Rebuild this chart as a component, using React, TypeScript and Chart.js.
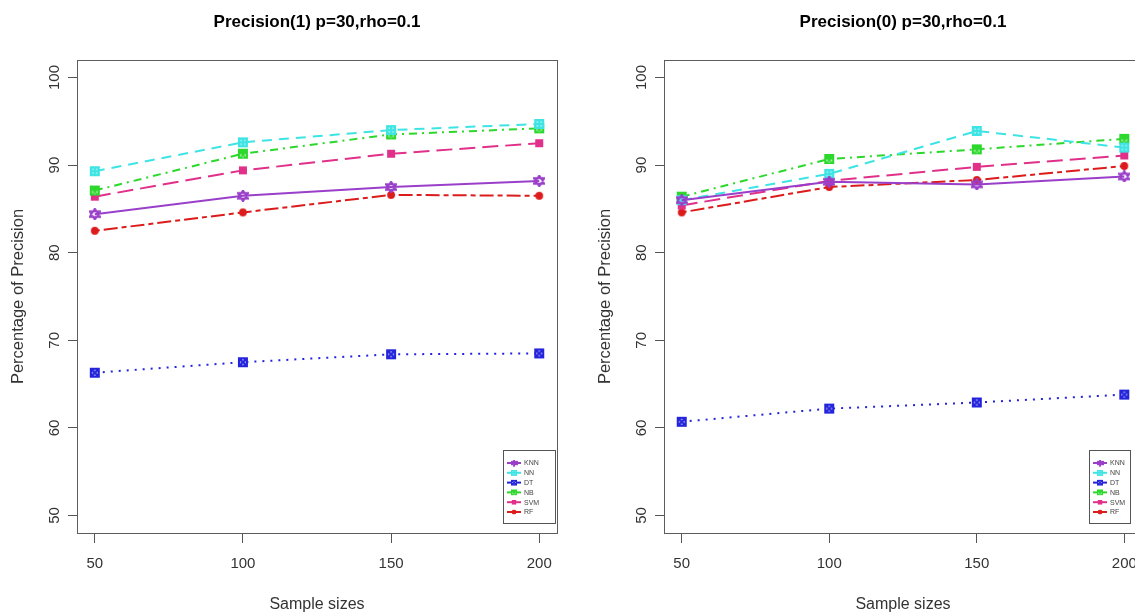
import React, { useEffect, useRef } from "react";
import { Chart, registerables } from "chart.js";

Chart.register(...registerables);

// ---- data ----
const sampleSizes = [50, 100, 150, 200];
const xTickValues = [50, 100, 150, 200];
const yTickValues = [50, 60, 70, 80, 90, 100];
const methods = ["KNN", "NN", "DT", "NB", "SVM", "RF"];

// Precision(1), p=30, rho=0.1
const prec1KNN = [84.4, 86.5, 87.5, 88.2];
const prec1NN = [89.3, 92.6, 94.0, 94.7];
const prec1DT = [66.3, 67.5, 68.4, 68.5];
const prec1NB = [87.1, 91.3, 93.5, 94.2];
const prec1SVM = [86.4, 89.4, 91.3, 92.5];
const prec1RF = [82.5, 84.6, 86.6, 86.5];

// Precision(0), p=30, rho=0.1
const prec0KNN = [86.0, 88.1, 87.8, 88.7];
const prec0NN = [86.0, 89.0, 93.9, 92.0];
const prec0DT = [60.7, 62.2, 62.9, 63.8];
const prec0NB = [86.4, 90.7, 91.8, 93.0];
const prec0SVM = [85.4, 88.2, 89.8, 91.1];
const prec0RF = [84.6, 87.5, 88.3, 89.9];

// ---- styling ----
const FONT = "'Liberation Sans', Arial, Helvetica, sans-serif";
const PANEL_W = 587;
const PANEL_H = 613;

type MarkerKind = "hexagram" | "squarePlus" | "squareCross" | "squareTri" | "square" | "circle";

const seriesStyle: { color: string; dash: number[]; marker: MarkerKind }[] = [
  { color: "#9a3fc9", dash: [], marker: "hexagram" },
  { color: "#3ee4e4", dash: [10, 7], marker: "squarePlus" },
  { color: "#2424dc", dash: [2, 6], marker: "squareCross" },
  { color: "#2cd82c", dash: [8, 5, 2, 5], marker: "squareTri" },
  { color: "#e0308a", dash: [16, 7], marker: "square" },
  { color: "#dc1c1c", dash: [5, 4, 14, 4], marker: "circle" },
];

// point symbols: solid squares with small light holes, a hexagram, a square and a dot
function makeMarker(kind: MarkerKind, color: string): HTMLCanvasElement {
  const c = document.createElement("canvas");
  c.width = 12;
  c.height = 12;
  const g = c.getContext("2d")!;
  g.strokeStyle = color;
  g.fillStyle = color;
  if (kind === "hexagram") {
    g.lineWidth = 1.9;
    g.beginPath();
    g.moveTo(6, 0.6); g.lineTo(11.2, 8.8); g.lineTo(0.8, 8.8); g.closePath();
    g.moveTo(6, 11.4); g.lineTo(11.2, 3.2); g.lineTo(0.8, 3.2); g.closePath();
    g.stroke();
  } else if (kind === "square") {
    g.fillRect(2, 2, 8, 8);
  } else if (kind === "circle") {
    g.beginPath();
    g.arc(6, 6, 3.9, 0, Math.PI * 2);
    g.fill();
  } else {
    g.fillRect(1, 1, 10, 10);
    g.fillStyle = "rgba(255,255,255,0.75)";
    if (kind === "squarePlus") {
      g.fillRect(3.5, 3.5, 1.3, 1.3);
      g.fillRect(7.2, 3.5, 1.3, 1.3);
      g.fillRect(3.5, 7.2, 1.3, 1.3);
      g.fillRect(7.2, 7.2, 1.3, 1.3);
    } else if (kind === "squareCross") {
      g.fillRect(5.3, 3, 1.4, 1.2);
      g.fillRect(5.3, 7.8, 1.4, 1.2);
      g.fillRect(3, 5.3, 1.2, 1.4);
      g.fillRect(7.8, 5.3, 1.2, 1.4);
    } else {
      g.fillRect(3.2, 6.5, 1.3, 2);
      g.fillRect(7.5, 6.5, 1.3, 2);
      g.fillRect(5.4, 8.6, 1.3, 1);
    }
  }
  return c;
}

// box drawn around the plotting region
const plotFrame = {
  id: "plotFrame",
  afterDraw(chart: any) {
    const { ctx, chartArea: a } = chart;
    ctx.save();
    ctx.strokeStyle = "#5c5c5c";
    ctx.lineWidth = 1;
    ctx.strokeRect(Math.round(a.left) + 0.5, Math.round(a.top) + 0.5, Math.round(a.right - a.left), Math.round(a.bottom - a.top));
    ctx.restore();
  },
};

// small key in the bottom-right corner of the plot
function makeKey(rightInset: number, boxWidth: number) {
  return {
    id: "methodKey",
    afterDraw(chart: any) {
      const { ctx, chartArea: a } = chart;
      const right = Math.round(a.right) - rightInset;
      const left = right - boxWidth;
      const bottom = Math.round(a.bottom) - 10;
      const top = bottom - 73;
      ctx.save();
      ctx.fillStyle = "#ffffff";
      ctx.fillRect(left, top, boxWidth, bottom - top);
      ctx.strokeStyle = "#555";
      ctx.lineWidth = 1;
      ctx.strokeRect(left + 0.5, top + 0.5, boxWidth, bottom - top);
      chart.data.datasets.forEach((ds: any, i: number) => {
        const y = top + 13 + i * 9.8;
        ctx.strokeStyle = ds.borderColor;
        ctx.lineWidth = 2;
        ctx.setLineDash([]);
        ctx.beginPath();
        ctx.moveTo(left + 4, y);
        ctx.lineTo(left + 18, y);
        ctx.stroke();
        ctx.drawImage(ds.pointStyle, left + 11 - 3.5, y - 3.5, 7, 7);
        ctx.fillStyle = "#444";
        ctx.font = `7px ${FONT}`;
        ctx.textBaseline = "middle";
        ctx.textAlign = "left";
        ctx.fillText(ds.label, left + 21, y + 0.5);
      });
      ctx.restore();
    },
  };
}

function buildConfig(title: string, series: number[][], keyRightInset: number, keyWidth: number, rightPad: number): any {
  const markers = seriesStyle.map((s) => makeMarker(s.marker, s.color));
  return {
    type: "line",
    data: {
      datasets: methods.map((name, i) => ({
        label: name,
        data: sampleSizes.map((x, j) => ({ x, y: series[i][j] })),
        borderColor: seriesStyle[i].color,
        backgroundColor: seriesStyle[i].color,
        borderWidth: 2,
        borderDash: seriesStyle[i].dash,
        pointStyle: markers[i],
        pointRadius: 6,
        tension: 0,
        fill: false,
      })),
    },
    options: {
      animation: false,
      responsive: false,
      devicePixelRatio: 1,
      layout: { padding: { left: 0, right: rightPad, top: 0, bottom: 0 } },
      plugins: {
        legend: { display: false },
        tooltip: { enabled: false },
        title: {
          display: true,
          text: title,
          fullSize: false,
          color: "#000",
          font: { family: FONT, size: 17, weight: "bold", lineHeight: 1.2 },
          padding: { top: 12, bottom: 27.6 },
        },
      },
      scales: {
        x: {
          type: "linear",
          min: 44,
          max: 206,
          afterBuildTicks: (s: any) => {
            s.ticks = xTickValues.map((v) => ({ value: v }));
          },
          afterFit: (s: any) => {
            s.height = 80;
          },
          border: { display: false },
          grid: { drawOnChartArea: false, drawTicks: true, tickLength: 10, tickColor: "#555", lineWidth: 1 },
          ticks: { color: "#333", font: { family: FONT, size: 15 }, padding: 12, minRotation: 0, maxRotation: 0 },
          title: {
            display: true,
            text: "Sample sizes",
            color: "#333",
            font: { family: FONT, size: 16, lineHeight: 1 },
            padding: { top: 0, bottom: 0 },
          },
        },
        y: {
          type: "linear",
          min: 48,
          max: 102,
          afterBuildTicks: (s: any) => {
            s.ticks = yTickValues.map((v) => ({ value: v }));
          },
          afterFit: (s: any) => {
            s.width = 77;
          },
          border: { display: false },
          grid: { drawOnChartArea: false, drawTicks: true, tickLength: 9, tickColor: "#555", lineWidth: 1 },
          ticks: { color: "#333", font: { family: FONT, size: 15 }, padding: 1, minRotation: 90, maxRotation: 90, crossAlign: "center" },
          title: {
            display: true,
            text: "Percentage of Precision",
            color: "#333",
            font: { family: FONT, size: 16.5, lineHeight: 1 },
            padding: { top: 10, bottom: 0 },
          },
        },
      },
    },
    plugins: [plotFrame, makeKey(keyRightInset, keyWidth)],
  };
}

function Panel(props: { left: number; title: string; series: number[][]; keyRightInset: number; keyWidth: number; rightPad: number }) {
  const ref = useRef<HTMLCanvasElement | null>(null);
  useEffect(() => {
    if (!ref.current) return;
    const chart = new Chart(ref.current, buildConfig(props.title, props.series, props.keyRightInset, props.keyWidth, props.rightPad));
    return () => chart.destroy();
  }, []);
  return (
    <canvas
      ref={ref}
      width={PANEL_W}
      height={PANEL_H}
      style={{ position: "absolute", left: props.left, top: 0, width: PANEL_W, height: PANEL_H }}
    />
  );
}

export default function App() {
  return (
    <div style={{ position: "fixed", left: 0, top: 0, width: 1135, height: 613, overflow: "hidden", background: "#fff" }}>
      <Panel
        left={0}
        title="Precision(1) p=30,rho=0.1"
        series={[prec1KNN, prec1NN, prec1DT, prec1NB, prec1SVM, prec1RF]}
        keyRightInset={2}
        keyWidth={52}
        rightPad={30}
      />
      <Panel
        left={587}
        title="Precision(0) p=30,rho=0.1"
        series={[prec0KNN, prec0NN, prec0DT, prec0NB, prec0SVM, prec0RF]}
        keyRightInset={12}
        keyWidth={41}
        rightPad={32}
      />
    </div>
  );
}
